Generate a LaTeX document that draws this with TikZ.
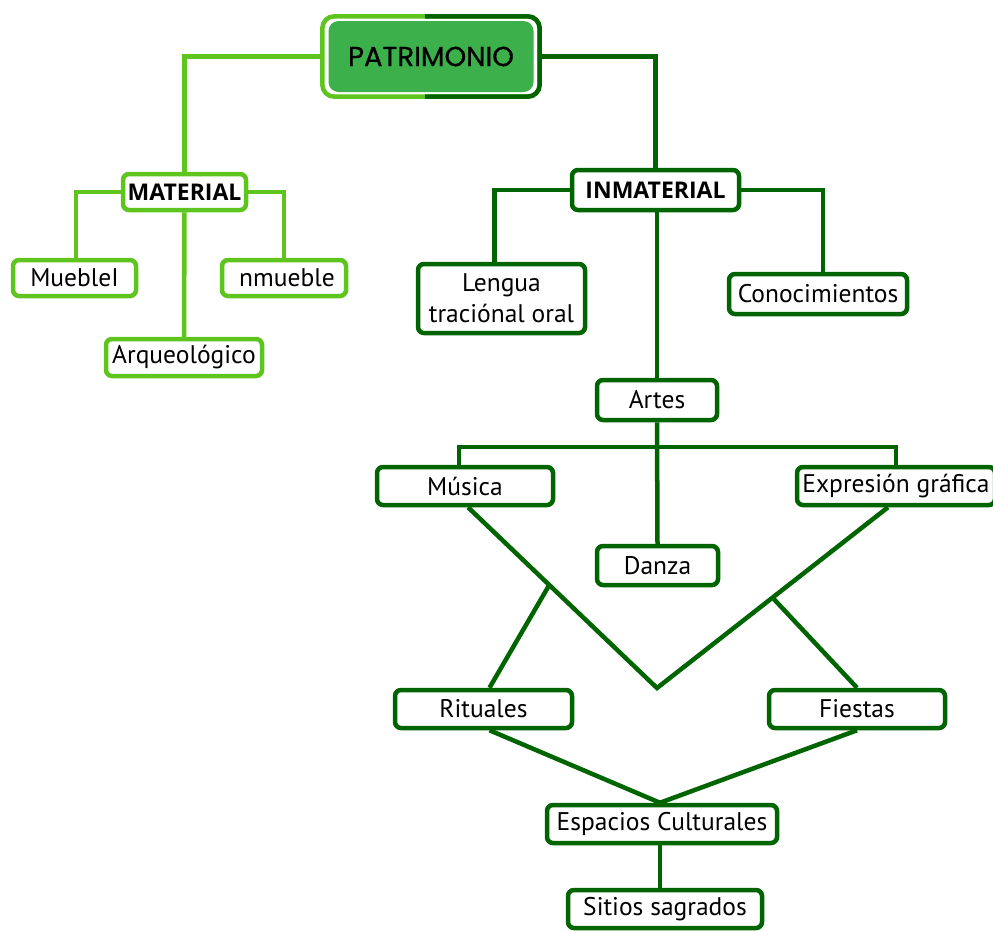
\documentclass[tikz,border=0pt]{standalone}
\usepackage{fontspec}
\setmainfont{PT Sans}
\newfontfamily\boldfam{Open Sans}
\newfontfamily\patfam[FakeBold=0.8]{Poppins}
\usetikzlibrary{backgrounds,calc}
\definecolor{lg}{RGB}{94,196,30}
\definecolor{dg}{RGB}{0,100,0}
\definecolor{pf}{RGB}{60,176,74}
\begin{document}
\begin{tikzpicture}[x=1pt,y=-1pt,
  box/.style={draw, rounded corners=6pt, line width=4.5pt, fill=white, inner sep=0pt,
    font=\fontsize{25.5}{31}\selectfont, text=black, align=center},
  lbox/.style={box, draw=lg},
  dbox/.style={box, draw=dg},
  hbox/.style={font=\boldfam\bfseries\fontsize{23}{26}\selectfont},
  lline/.style={draw=lg, line width=4.5pt},
  dline/.style={draw=dg, line width=4.5pt},
]
\useasboundingbox (0,0) rectangle (993,930);

% PATRIMONIO
\node[draw=none, minimum width=217, minimum height=80, inner sep=0pt] (pat) at (431,56.5) {};
\node[fill=pf, rounded corners=10pt, minimum width=205, minimum height=71, inner sep=0pt,
      font=\patfam\fontsize{27.5}{30}\selectfont, text=black] (patin) at (431,56.5) {PATRIMONIO};
\draw[lg, line width=4.5pt, rounded corners=12pt] (pat.north west) rectangle (pat.south east);
\begin{scope}
  \clip ($(pat.north)+(-6,-10)$) rectangle ($(pat.south east)+(10,10)$);
  \draw[dg, line width=4.5pt, rounded corners=12pt] (pat.north west) rectangle (pat.south east);
\end{scope}

% MATERIAL branch
\node[lbox, hbox, minimum width=123, minimum height=36] (mat) at (184.5,192) {MATERIAL};
\node[lbox, minimum width=123, minimum height=36] (mue) at (74.5,278) {MuebleI};
\node[lbox, minimum width=124, minimum height=36] (nmu) at (284,278) {\hspace*{6pt}nmueble};
\node[lbox, minimum width=156, minimum height=37] (arq) at (184,357.5) {Arqueológico};

% INMATERIAL branch
\node[dbox, hbox, minimum width=167, minimum height=40] (inm) at (655.5,190) {INMATERIAL};
\node[dbox, minimum width=167, minimum height=69] (len) at (501.5,298.5) {Lengua\\traciónal oral};
\node[dbox, minimum width=178, minimum height=40] (con) at (818,294) {Conocimientos};
\node[dbox, minimum width=120, minimum height=40] (art) at (657,400) {Artes};
\node[dbox, minimum width=176, minimum height=38] (mus) at (465,486) {Música};
\node[dbox, minimum width=198, minimum height=38] (exp) at (896,486) {Expresión gráfica};
\node[dbox, minimum width=121, minimum height=39] (dan) at (657.5,565.5) {Danza};
\node[dbox, minimum width=177, minimum height=38] (rit) at (483.5,709) {Rituales};
\node[dbox, minimum width=176, minimum height=38] (fie) at (857,709) {Fiestas};
\node[dbox, minimum width=230, minimum height=38] (esp) at (662,824) {Espacios Culturales};
\node[dbox, minimum width=194, minimum height=38] (sit) at (665,909) {Sitios sagrados};

\coordinate (v) at (657,688);

\begin{scope}[on background layer]
  \draw[lline] (pat.west) -| (mat.north);
  \draw[lline] (mat.west) -| ([xshift=1.5]mue.north);
  \draw[lline] (mat.east) -| (nmu.north);
  \draw[lline] (mat.south) -- (arq.north);

  \draw[dline] (pat.east) -| (inm.north);
  \draw[dline] (inm.west) -| ([xshift=-7]len.north);
  \draw[dline] (inm.east) -| ([xshift=5]con.north);
  \draw[dline] (art.north |- inm.south) -- (art.north);
  \draw[dline] (art.south) -- (dan.north);
  \draw[dline] ([xshift=-6]mus.north) -- ++(0,-18) -| (exp.north);

  \draw[dline] ([xshift=3]mus.south) -- (v) -- ([xshift=-8]exp.south);
  \path ([xshift=3]mus.south) -- (v) coordinate[pos=0.43] (lb);
  \path ([xshift=-8]exp.south) -- (v) coordinate[pos=0.5] (rb);
  \draw[dline] (lb) -- ([xshift=6]rit.north);
  \draw[dline] (rb) -- (fie.north);
  \draw[dline] ([xshift=6]rit.south) -- ([xshift=-2]esp.north);
  \draw[dline] (fie.south) -- ([xshift=-2]esp.north);
  \draw[dline] ([xshift=-2]esp.south) -- ([xshift=-5]sit.north);
\end{scope}
\end{tikzpicture}
\end{document}
